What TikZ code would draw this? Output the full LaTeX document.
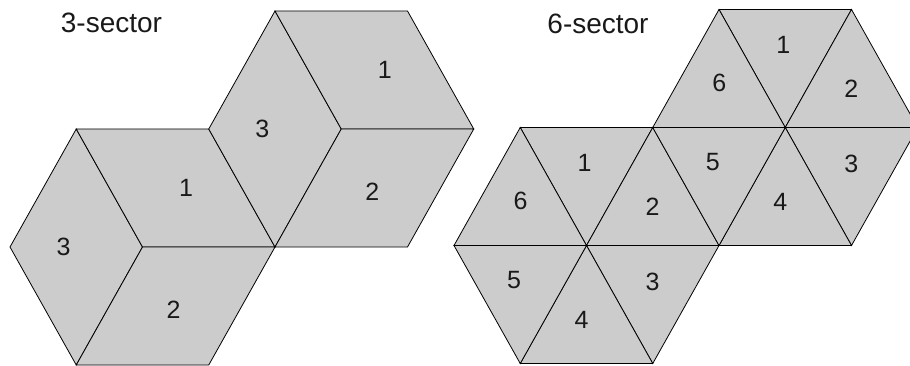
\documentclass[tikz,border=0pt]{standalone}
\usepackage{fontspec}
\setmainfont{Liberation Sans}
\definecolor{sectorgray}{RGB}{204,204,204}

% corners of a flat-topped hexagon around the current origin
\newcommand\hexcorners[1]{%
  \coordinate (#1-O)  at (0,0);
  \coordinate (#1-E)  at (132.5,0);
  \coordinate (#1-NE) at (66.25,-118);
  \coordinate (#1-NW) at (-66.25,-118);
  \coordinate (#1-W)  at (-132.5,0);
  \coordinate (#1-SW) at (-66.25,118);
  \coordinate (#1-SE) at (66.25,118);
}

% hexagon split into three rhombic sectors
\newcommand\hexthree[3]{%
  \begin{scope}[shift={(#2,#3)}]
    \hexcorners{#1}
    \draw[sector] (#1-W) -- (#1-NW) -- (#1-O) -- (#1-SW) -- cycle;
    \draw[sector] (#1-NW) -- (#1-NE) -- (#1-E) -- (#1-O) -- cycle;
    \draw[sector] (#1-O) -- (#1-E) -- (#1-SE) -- (#1-SW) -- cycle;
    \node[lbl] (#1-l3) at (-79,0) {3};
    \node[lbl] (#1-l1) at (43.5,-59.5) {1};
    \node[lbl] (#1-l2) at (31,62.5) {2};
  \end{scope}
}

% hexagon split into six triangular sectors
\newcommand\hexsix[3]{%
  \begin{scope}[shift={(#2,#3)}]
    \hexcorners{#1}
    \draw[sector] (#1-NW) -- (#1-NE) -- (#1-O) -- cycle;
    \draw[sector] (#1-NE) -- (#1-E) -- (#1-O) -- cycle;
    \draw[sector] (#1-E) -- (#1-SE) -- (#1-O) -- cycle;
    \draw[sector] (#1-SE) -- (#1-SW) -- (#1-O) -- cycle;
    \draw[sector] (#1-SW) -- (#1-W) -- (#1-O) -- cycle;
    \draw[sector] (#1-W) -- (#1-NW) -- (#1-O) -- cycle;
    \node[lbl] (#1-l1) at (-2,-82.5) {1};
    \node[lbl] (#1-l2) at (66,-39) {2};
    \node[lbl] (#1-l3) at (66,36) {3};
    \node[lbl] (#1-l4) at (-5,74) {4};
    \node[lbl] (#1-l5) at (-72.5,34.5) {5};
    \node[lbl] (#1-l6) at (-66,-44.5) {6};
  \end{scope}
}

\begin{document}
\begin{tikzpicture}[x=1pt,y=-1pt,
  sector/.style={fill=sectorgray, draw=black, line width=0.8pt, line join=miter},
  lbl/.style={font=\fontsize{25}{25}\selectfont, inner sep=0pt, text=black!90},
  ttl/.style={font=\fontsize{28}{28}\selectfont, inner sep=0pt, text=black!90}]
  \clip (0,0) rectangle (910,366);

  % three-sector pair
  \hexthree{ta}{142.5}{247}
  \hexthree{tb}{341.25}{129}
  \node[ttl] (title3) at (111.5,23) {3-sector};

  % six-sector pair
  \hexsix{sa}{586.5}{245.5}
  \hexsix{sb}{785.25}{127.5}
  \node[ttl] (title6) at (598,24) {6-sector};
\end{tikzpicture}
\end{document}
